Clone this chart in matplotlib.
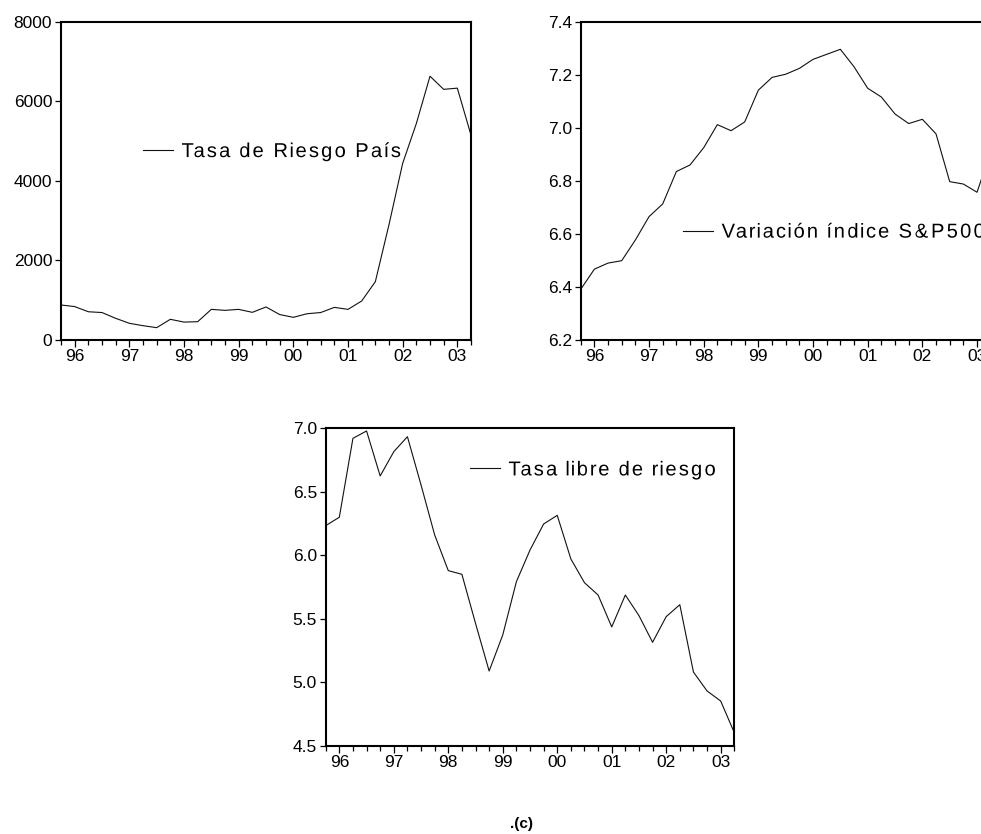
import matplotlib
matplotlib.use("Agg")
import matplotlib.pyplot as plt
import numpy as np
from matplotlib.ticker import FixedLocator, FuncFormatter
from matplotlib.patheffects import AbstractPathEffect
from matplotlib.path import Path

plt.rcParams['font.family'] = ['Liberation Sans', 'DejaVu Sans']

# quarterly observations, 1995Q4 .. 2003Q2
quarters = np.arange(31) * 0.25 + 1995.75
year_ticks = list(range(1996, 2004))

riesgo_pais = [880, 840, 710, 690, 545, 420, 360, 310, 520, 450,
               460, 770, 745, 770, 695, 830, 640, 570, 660, 690,
               820, 770, 980, 1465, 2900, 4440, 5440, 6630, 6300, 6330,
               5150]

sp500 = [6.391, 6.467, 6.490, 6.499, 6.577, 6.665, 6.713, 6.835, 6.860, 6.925,
         7.012, 6.989, 7.022, 7.142, 7.190, 7.202, 7.224, 7.258, 7.277, 7.296,
         7.230, 7.149, 7.116, 7.052, 7.016, 7.032, 6.977, 6.797, 6.788, 6.757,
         6.910]

libre_riesgo = [6.234, 6.300, 6.921, 6.979, 6.625, 6.816, 6.934, 6.554, 6.161, 5.880,
                5.851, 5.465, 5.090, 5.374, 5.793, 6.042, 6.247, 6.315, 5.972, 5.785,
                5.688, 5.437, 5.688, 5.526, 5.316, 5.518, 5.612, 5.082, 4.933, 4.854,
                4.605]


class Spaced(AbstractPathEffect):
    """spread the glyph outlines apart (wide letter spacing, EViews look)"""

    def __init__(self, factor):
        super().__init__()
        self.factor = factor

    def draw_path(self, renderer, gc, tpath, affine, rgbFace=None):
        codes = tpath.codes
        if codes is None:
            renderer.draw_path(gc, tpath, affine, rgbFace)
            return
        verts = tpath.vertices.copy()
        starts = np.flatnonzero(codes == Path.MOVETO)
        ends = list(starts[1:]) + [len(codes)]
        for a, b in zip(starts, ends):
            keep = codes[a:b] != Path.CLOSEPOLY
            cx = verts[a:b][keep, 0].mean()
            verts[a:b, 0] += (self.factor - 1) * cx
        renderer.draw_path(gc, Path(verts, codes), affine, rgbFace)


W, H = 981, 834
fig = plt.figure(figsize=(W / 100, H / 100), dpi=100)


def px_axes(left, top, right, bottom):
    return fig.add_axes([left / W, 1 - bottom / H, (right - left) / W, (bottom - top) / H])


def style(ax, y, label, yticks, yfmt, ylim, leg_xy):
    ax.plot(quarters, y, color='#111111', lw=0.8, label=label)
    ax.set_xlim(1995.75, 2003.25)
    ax.set_ylim(*ylim)
    ax.set_yticks(yticks)
    ax.yaxis.set_major_formatter(FuncFormatter(lambda v, p: yfmt.format(v)))
    ax.xaxis.set_major_locator(FixedLocator(year_ticks))
    ax.xaxis.set_minor_locator(FixedLocator(quarters))
    ax.set_xticklabels(['%02d' % (yr % 100) for yr in year_ticks])
    ax.tick_params(axis='both', which='major', direction='out', width=0.9,
                   labelsize=12.5, pad=2)
    ax.tick_params(axis='y', which='major', length=4.3)
    ax.tick_params(axis='x', which='major', length=5.2, pad=1)
    ax.tick_params(axis='x', which='minor', direction='out', length=3.3, width=0.9)
    for s in ax.spines.values():
        s.set_linewidth(1.5)
    leg = ax.legend(loc='center left', bbox_to_anchor=leg_xy, frameon=False,
                    fontsize=14.5, handlelength=1.5, handletextpad=0.35,
                    borderpad=0, borderaxespad=0)
    for t in leg.get_texts():
        t.set_path_effects([Spaced(1.2)])


ax1 = px_axes(61, 21.7, 471, 340)
style(ax1, riesgo_pais, 'Tasa de Riesgo País', [0, 2000, 4000, 6000, 8000],
      '{:.0f}', (0, 8000), (0.2, 0.592))

ax2 = px_axes(580.7, 21.7, 990.7, 340)
style(ax2, sp500, 'Variación índice S&P500', [6.2, 6.4, 6.6, 6.8, 7.0, 7.2, 7.4],
      '{:.1f}', (6.2, 7.4), (0.2495, 0.339))

ax3 = px_axes(325.7, 428.3, 734.3, 746)
style(ax3, libre_riesgo, 'Tasa libre de riesgo', [4.5, 5.0, 5.5, 6.0, 6.5, 7.0],
      '{:.1f}', (4.5, 7.0), (0.353, 0.869))

fig.text(521.7 / W, 1 - 824 / H, '.(c)', ha='center', va='center',
         fontsize=11, fontweight='bold')

fig.savefig('out.png', dpi=100)
